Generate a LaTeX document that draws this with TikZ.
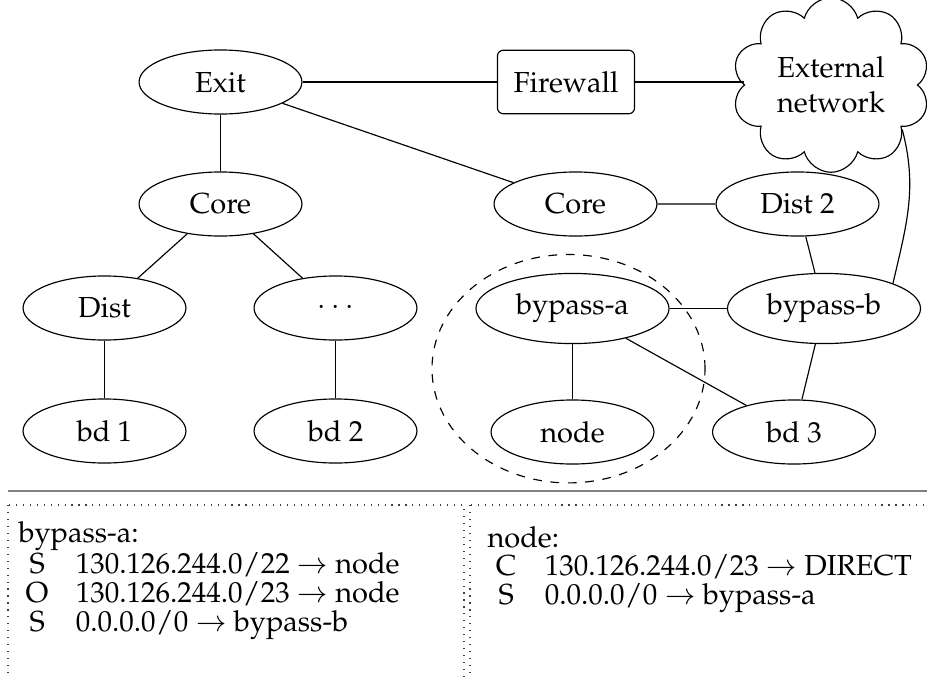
\documentclass[tikz,border=0pt]{standalone}
\usepackage[T1]{fontenc}
\usepackage{mathpazo}
\usepackage{tikz}
\usetikzlibrary{shapes.geometric,shapes.symbols}
\newcommand{\rline}[2]{\hspace*{2.5pt}\makebox[7.8pt]{#1}\hspace{9.5pt}#2}

\begin{document}
\begin{tikzpicture}[x=0.345pt, y=-0.345pt,
  netnode/.style={draw, ellipse, minimum width=56.2pt, minimum height=22.1pt, inner sep=2pt},
  bypnode/.style={netnode, minimum width=66.6pt, minimum height=24.2pt},
  fwbox/.style={draw, rounded corners=2pt, minimum width=47.3pt, minimum height=21.9pt},
  netcloud/.style={draw, cloud, cloud puffs=10, cloud ignores aspect, align=center,
    inner xsep=2.5pt, inner ysep=7.4pt},
  rtable/.style={anchor=base west, inner sep=0pt},
  tblbox/.style={draw=black!75, dotted}]
  \useasboundingbox (0,0) rectangle (927,676);
  \clip (0,0) rectangle (927,676);

  % network
  \node[netnode] (exit) at (220.5,82) {Exit};
  \node[fwbox] (fw) at (566,82) {Firewall};
  \node[netcloud] (ext) at (831,85) {External\\network};
  \node[netnode] (coreL) at (220.5,204) {Core};
  \node[netnode] (coreR) at (575.5,204) {Core};
  \node[netnode] (dist2) at (797.5,204) {Dist 2};
  \node[netnode] (dist) at (104.5,308) {Dist};
  \node[netnode] (dots) at (335.5,308) {$\cdots$};
  \node[bypnode] (bypa) at (572.5,308.5) {bypass-a};
  \node[bypnode] (bypb) at (824,308.5) {bypass-b};
  \node[netnode] (bd1) at (104.5,431) {bd 1};
  \node[netnode] (bd2) at (335.5,431) {bd 2};
  \node[netnode] (nd) at (572.5,432) {node};
  \node[netnode] (bd3) at (794,432) {bd 3};

  \draw (exit) -- (fw) -- (ext.west|-fw);
  \draw (exit) -- (coreL);
  \draw (exit) -- (coreR);
  \draw (coreL) -- (dist);
  \draw (coreL) -- (dots);
  \draw (dist) -- (bd1);
  \draw (dots) -- (bd2);
  \draw (coreR) -- (dist2) -- (bypb);
  \draw (bypa) -- (bypb);
  \draw (bypa) -- (nd);
  \draw (bypa) -- (bd3);
  \draw (bypb) -- (bd3);
  \draw (ext.-32) to[out=-75,in=77] (bypb.20);

  \draw[dashed] (568.5,368.7) ellipse [x radius=47.1pt, y radius=39.4pt];

  % routing tables
  \draw[gray, line width=0.8pt] (8,491) -- (940,491);
  \draw[tblbox] (8,505) rectangle (464,690);
  \draw[tblbox] (470,505) rectangle (940,690);
  \node[rtable] (tA0) at (18,542) {bypass-a:};
  \node[rtable] (tA1) at (18,573) {\rline{S}{130.126.244.0$/$22 $\rightarrow$ node}};
  \node[rtable] (tA2) at (18,602) {\rline{O}{130.126.244.0$/$23 $\rightarrow$ node}};
  \node[rtable] (tA3) at (18,631) {\rline{S}{0.0.0.0$/$0 $\rightarrow$ bypass-b}};
  \node[rtable] (tB0) at (487,547) {node:};
  \node[rtable] (tB1) at (487,575) {\rline{C}{130.126.244.0$/$23 $\rightarrow$ DIRECT}};
  \node[rtable] (tB2) at (487,604) {\rline{S}{0.0.0.0$/$0 $\rightarrow$ bypass-a}};
\end{tikzpicture}
\end{document}
